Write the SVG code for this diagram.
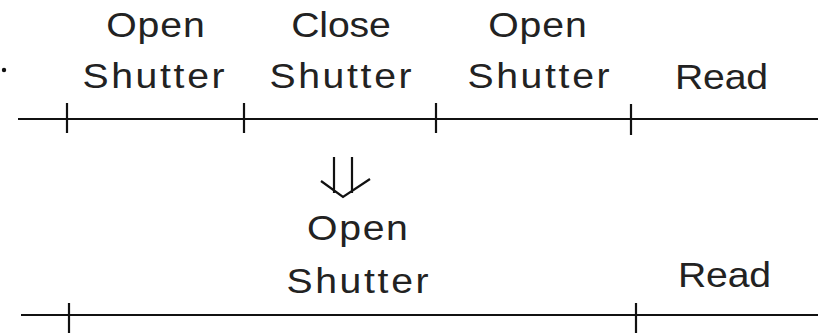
<svg xmlns="http://www.w3.org/2000/svg" width="818" height="333" viewBox="0 0 818 333">
<style>
.t{font-family:"Liberation Sans",Arial,sans-serif;font-size:35px;fill:#222;text-anchor:middle}
.ln{stroke:#111;stroke-width:2.2;fill:none}
</style>
<rect width="818" height="333" fill="#fff"/>
<circle cx="4" cy="70" r="2.2" fill="#111"/>
<g id="connectors">
<line class="ln" x1="18" y1="119" x2="818" y2="119"/>
<line class="ln" x1="67" y1="103" x2="67" y2="133"/>
<line class="ln" x1="244" y1="103" x2="244" y2="133"/>
<line class="ln" x1="436" y1="103" x2="436" y2="133"/>
<line class="ln" x1="631" y1="104" x2="631" y2="135"/>
<line class="ln" x1="21" y1="315" x2="818" y2="315"/>
<line class="ln" x1="69" y1="303" x2="69" y2="333"/>
<line class="ln" x1="636" y1="303" x2="636" y2="333"/>
<path class="ln" d="M334 157V193M352 157V193M321 181L343 197L370 179"/>
</g>
<g id="n1"><text class="t" transform="translate(155.5,37) scale(1.12,1)" textLength="88" lengthAdjust="spacing">Open</text><text class="t" transform="translate(153.5,88) scale(1.12,1)" textLength="127" lengthAdjust="spacing">Shutter</text></g>
<g id="n2"><text class="t" transform="translate(341,37) scale(1.12,1)" textLength="89" lengthAdjust="spacing">Close</text><text class="t" transform="translate(340.5,88) scale(1.12,1)" textLength="127" lengthAdjust="spacing">Shutter</text></g>
<g id="n3"><text class="t" transform="translate(537.5,37) scale(1.12,1)" textLength="88" lengthAdjust="spacing">Open</text><text class="t" transform="translate(538.5,88) scale(1.12,1)" textLength="127" lengthAdjust="spacing">Shutter</text></g>
<g id="n4"><text class="t" transform="translate(721.5,89) scale(1.12,1)" textLength="83" lengthAdjust="spacing">Read</text></g>
<g id="n5"><text class="t" transform="translate(357.5,240) scale(1.12,1)" textLength="90" lengthAdjust="spacing">Open</text><text class="t" transform="translate(357.5,293) scale(1.12,1)" textLength="127" lengthAdjust="spacing">Shutter</text></g>
<g id="n6"><text class="t" transform="translate(724.5,287) scale(1.12,1)" textLength="83" lengthAdjust="spacing">Read</text></g>
</svg>
